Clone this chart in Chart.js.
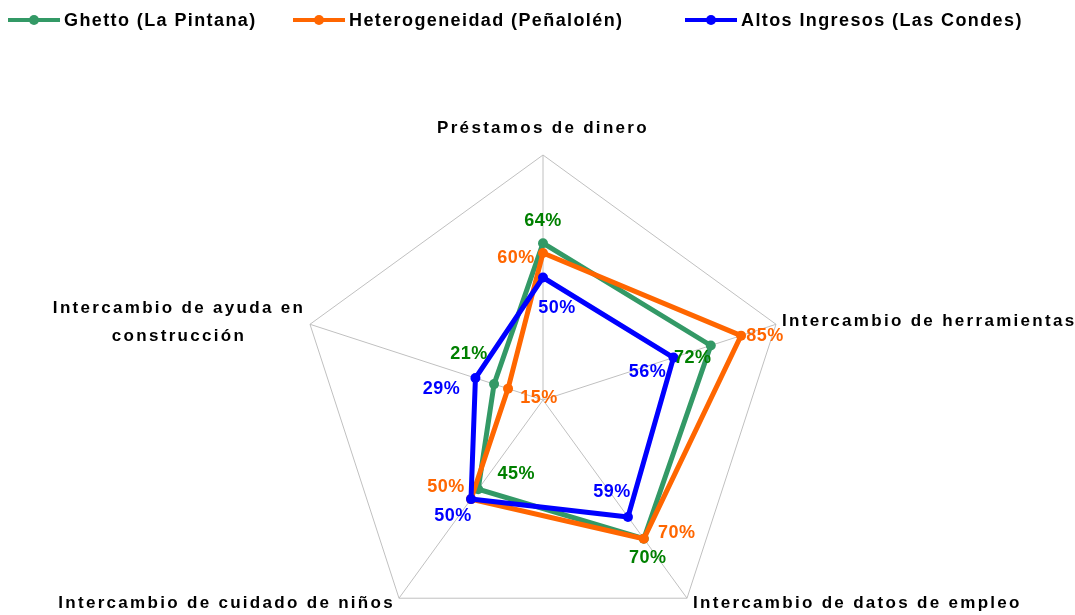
<!DOCTYPE html>
<html>
<head>
<meta charset="utf-8">
<title>Redes de intercambio</title>
<script src="https://cdn.jsdelivr.net/npm/chart.js@4/dist/chart.umd.min.js"></script>
<style>
  html, body { margin: 0; padding: 0; background: #fff; overflow: hidden; }
  #wrap { width: 1075px; height: 615px; overflow: hidden; }
</style>
</head>
<body>
<div id="wrap"><canvas id="radarChart" width="1075" height="645"></canvas></div>
<script>
// categories (clockwise from the top)
const categories = [
	"Préstamos de dinero",
	"Intercambio de herramientas",
	"Intercambio de datos de empleo",
	"Intercambio de cuidado de niños",
	["Intercambio de ayuda en", "construcción"]
];

// percentages per neighbourhood
const ghettoValues = [64, 72, 70, 45, 21];
const heteroValues = [60, 85, 70, 50, 15];
const altosValues = [50, 56, 59, 50, 29];

const seriesNames = ["Ghetto (La Pintana)", "Heterogeneidad (Peñalolén)", "Altos Ingresos (Las Condes)"];

const FONT = '"Liberation Sans", Arial, Helvetica, sans-serif';
Chart.defaults.font.family = FONT;

// where each value label sits relative to its point
const labelOffsets = [
	[[0, -22], [-18, 13], [4, 19], [38, -15], [-25, -30]],
	[[-27, 5], [24, 0], [33, -6], [-25, -12], [31, 9]],
	[[14, 31], [-26, 14], [-16, -25], [-18, 17], [-34, 11]]
];
const labelColors = ["#008000", "#ff6600", "#0000ff"];
const legendX = [8, 293, 685];

// value labels, axis titles and the legend row
const decorPlugin = {
	id: 'decor',
	afterDatasetsDraw(chart) {
		const ctx = chart.ctx;
		ctx.save();
		ctx.textBaseline = 'middle';
		ctx.textAlign = 'center';
		ctx.font = 'bold 18px ' + FONT;
		ctx.letterSpacing = '0.5px';
		chart.data.datasets.forEach((ds, d) => {
			const meta = chart.getDatasetMeta(d);
			meta.data.forEach((pt, i) => {
				const off = labelOffsets[d][i];
				ctx.fillStyle = labelColors[d];
				ctx.fillText(ds.data[i] + '%', pt.x + off[0], pt.y + off[1]);
			});
		});
		ctx.restore();
	},
	afterDraw(chart) {
		const ctx = chart.ctx;
		const scale = chart.scales.r;
		ctx.save();
		ctx.fillStyle = '#000';
		ctx.textBaseline = 'middle';
		ctx.font = 'bold 17px ' + FONT;
		ctx.letterSpacing = '2.3px';

		// axis titles
		const place = [
			{ align: 'center', dx: 0, dy: -27 },
			{ align: 'left', dx: 6, dy: -3 },
			{ align: 'left', dx: 6, dy: 5 },
			{ align: 'right', dx: -4, dy: 5 },
			{ align: 'center', dx: -131, dy: -16 }
		];
		categories.forEach((label, i) => {
			const p = scale.getPointPosition(i, scale.drawingArea);
			const lines = Array.isArray(label) ? label : [label];
			ctx.textAlign = place[i].align;
			lines.forEach((line, j) => {
				ctx.fillText(line, p.x + place[i].dx, p.y + place[i].dy + j * 28);
			});
		});

		// legend
		ctx.textAlign = 'left';
		ctx.font = 'bold 18px ' + FONT;
		ctx.letterSpacing = '1.4px';
		const y = 20;
		chart.data.datasets.forEach((ds, d) => {
			const x = legendX[d];
			ctx.strokeStyle = ds.borderColor;
			ctx.fillStyle = ds.borderColor;
			ctx.lineWidth = 4;
			ctx.beginPath();
			ctx.moveTo(x, y);
			ctx.lineTo(x + 52, y);
			ctx.stroke();
			ctx.beginPath();
			ctx.arc(x + 26, y, 5, 0, Math.PI * 2);
			ctx.fill();
			ctx.fillStyle = '#000';
			ctx.fillText(ds.label, x + 56, y + 1);
		});
		ctx.restore();
	}
};

function makeSet(label, data, color, order) {
	return {
		label: label,
		data: data,
		borderColor: color,
		backgroundColor: color,
		pointBackgroundColor: color,
		pointBorderColor: color,
		borderWidth: 5,
		pointRadius: 5,
		pointBorderWidth: 0,
		fill: false,
		order: order
	};
}

const radarChart = new Chart(document.getElementById('radarChart'), {
	type: 'radar',
	data: {
		labels: categories,
		datasets: [
			makeSet(seriesNames[0], ghettoValues, '#339966', 3),
			makeSet(seriesNames[1], heteroValues, '#ff6600', 2),
			makeSet(seriesNames[2], altosValues, '#0000ff', 1)
		]
	},
	options: {
		responsive: false,
		animation: false,
		layout: {
			padding: { left: 20, right: 9, top: 155, bottom: 0 }
		},
		elements: {
			line: { tension: 0 }
		},
		scales: {
			r: {
				min: 0,
				max: 100,
				ticks: { display: false, stepSize: 100 },
				grid: { color: '#c0c0c0', lineWidth: 1 },
				angleLines: { color: '#c0c0c0', lineWidth: 1 },
				pointLabels: { display: false }
			}
		},
		plugins: {
			legend: { display: false },
			tooltip: { enabled: false }
		}
	},
	plugins: [decorPlugin]
});
</script>
</body>
</html>
